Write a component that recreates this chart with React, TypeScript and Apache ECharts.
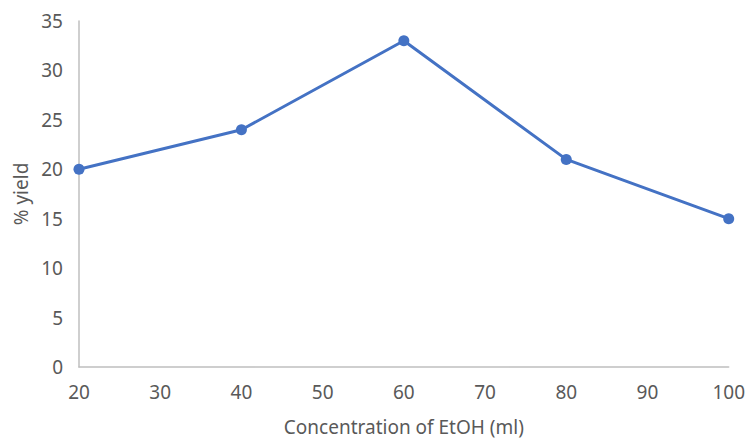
import React, { useEffect, useRef } from "react";
import * as echarts from "echarts";

const concentrations = [20, 40, 60, 80, 100];
const yieldValues = [20, 24, 33, 21, 15];
const xTitle = "Concentration of EtOH (ml)";
const yTitle = "% yield";

export default function App() {
  const ref = useRef<HTMLDivElement>(null);
  useEffect(() => {
    if (!ref.current) return;
    const chart = echarts.init(ref.current, undefined, { renderer: "svg" });
    const font = "'Noto Sans', 'Open Sans', sans-serif";
    const labelColor = "#595959";
    const axisColor = "#bfbfbf";
    chart.setOption({
      animation: false,
      backgroundColor: "#ffffff",
      grid: { left: 79, right: 17, top: 21, bottom: 69, containLabel: false },
      xAxis: {
        type: "value",
        min: 20,
        max: 100,
        interval: 10,
        name: xTitle,
        nameLocation: "middle",
        nameGap: 50,
        nameTextStyle: { color: labelColor, fontSize: 19, fontFamily: font },
        axisLine: { show: true, lineStyle: { color: axisColor, width: 1.5 } },
        axisTick: { show: false },
        splitLine: { show: false },
        axisLabel: { color: labelColor, fontSize: 19, fontFamily: font, margin: 15 },
      },
      yAxis: {
        type: "value",
        min: 0,
        max: 35,
        interval: 5,
        name: yTitle,
        nameLocation: "middle",
        nameGap: 49,
        nameRotate: 90,
        nameTextStyle: { color: labelColor, fontSize: 19, fontFamily: font },
        axisLine: { show: true, lineStyle: { color: axisColor, width: 1.5 } },
        axisTick: { show: false },
        splitLine: { show: false },
        axisLabel: { color: labelColor, fontSize: 19, fontFamily: font, margin: 16 },
      },
      series: [
        {
          type: "line",
          data: concentrations.map((c, i) => [c, yieldValues[i]]),
          symbol: "circle",
          symbolSize: 11,
          lineStyle: { color: "#4472C4", width: 3 },
          itemStyle: { color: "#4472C4" },
        },
      ],
    });
    return () => chart.dispose();
  }, []);
  return (
    <div
      ref={ref}
      style={{ position: "fixed", left: 0, top: 0, width: 748, height: 441 }}
    />
  );
}
